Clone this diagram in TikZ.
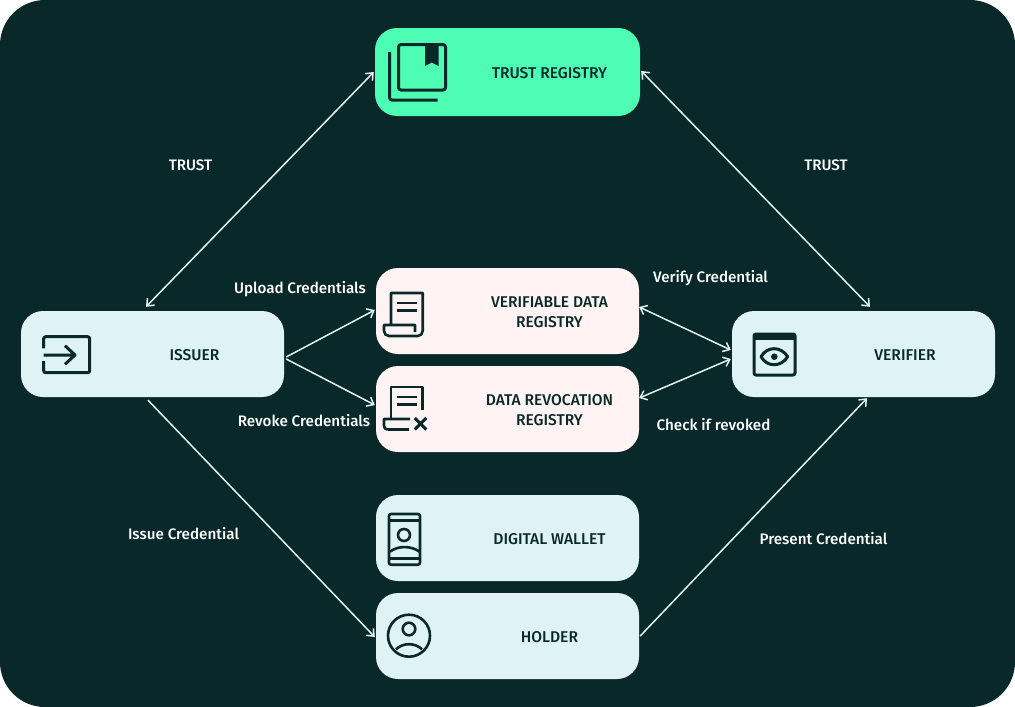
\documentclass[tikz,border=0pt]{standalone}
\usepackage{fontspec}
\setmainfont{Fira Sans Medium}
\usetikzlibrary{arrows.meta}
\definecolor{pagebg}{HTML}{08282A}
\definecolor{mint}{HTML}{4DFDB3}
\definecolor{blush}{HTML}{FFF4F3}
\definecolor{ice}{HTML}{DFF2F6}
\definecolor{linkcol}{HTML}{E2F3EE}
\tikzset{>={Straight Barb[length=6pt,width=10pt]},
box/.style={rounded corners=22pt,minimum width=263pt,minimum height=86pt,inner sep=0pt},
title/.style={text=pagebg,font=\fontsize{15.6}{20}\selectfont,align=center},
caption/.style={text=white,font=\fontsize{15.2}{20}\selectfont},
link/.style={draw=linkcol,line width=1.5pt},
icon/.style={draw=pagebg,line width=3pt,line join=round},
thinicon/.style={icon,line width=2.6pt}}

\begin{document}
\begin{tikzpicture}[x=1pt,y=-1pt]
\useasboundingbox (0,0) rectangle (1015,707);
\fill[white] (0,0) rectangle (1015,707);
\fill[pagebg,rounded corners=45pt] (0,0) rectangle (1015,707);
% boxes
\node[box,fill=mint,minimum width=265pt,minimum height=88pt] (trust) at (507.5,72) {};
\node[box,fill=blush] (vdr) at (507.5,311) {};
\node[box,fill=blush] (drr) at (507.5,409) {};
\node[box,fill=ice] (wallet) at (507.5,538) {};
\node[box,fill=ice] (holder) at (507.5,636) {};
\node[box,fill=ice] (issuer) at (152.5,354) {};
\node[box,fill=ice] (verifier) at (863.5,354) {};
% box texts
\node[title] (trusttxt) at (549.5,73) {TRUST REGISTRY};
\node[title] (vdrtxt) at (549.5,312) {VERIFIABLE DATA\\REGISTRY};
\node[title] (drrtxt) at (549.5,410) {DATA REVOCATION\\REGISTRY};
\node[title] (wallettxt) at (549.5,539) {DIGITAL WALLET};
\node[title] (holdertxt) at (549.5,637) {HOLDER};
\node[title] (issuertxt) at (194.5,355) {ISSUER};
\node[title] (verifiertxt) at (905,355) {VERIFIER};
% connectors
\draw[link,<->] ([xshift=-6.5pt,yshift=4pt]issuer.north) -- ([xshift=-1pt]trust.west);
\draw[link,<->] ([xshift=6.5pt,yshift=4pt]verifier.north) -- ([xshift=1pt,yshift=1pt]trust.east);
\draw[link,->] ([xshift=2pt,yshift=-3pt]issuer.east) -- ([xshift=-1pt,yshift=1pt]vdr.west);
\draw[link,->] ([xshift=2pt,yshift=-5pt]issuer.east) -- ([xshift=-1pt,yshift=4pt]drr.west);
\draw[link,<->] ([yshift=4pt]vdr.east) -- ([xshift=-1pt,yshift=4pt]verifier.west);
\draw[link,<->] ([yshift=11pt]drr.east) -- ([xshift=-1pt,yshift=-5pt]verifier.west);
\draw[link,->] ([xshift=-4.5pt,yshift=-3pt]issuer.south) -- ([xshift=-1pt,yshift=-1pt]holder.west);
\draw[link,->] ([xshift=1pt]holder.east) -- ([xshift=3.5pt,yshift=-1pt]verifier.south);
% connector texts
\node[caption] (trustl) at (190.5,165) {TRUST};
\node[caption] (trustr) at (826,165) {TRUST};
\node[caption] (upload) at (300,289) {Upload Credentials};
\node[caption] (verify) at (710.5,278) {Verify Credential};
\node[caption] (revoke) at (304,420.3) {Revoke Credentials};
\node[caption] (check) at (713.5,424.7) {Check if revoked};
\node[caption] (issue) at (183.5,533.3) {Issue Credential};
\node[caption] (present) at (823.5,538.8) {Present Credential};
% book icon
\draw[icon,rounded corners=2.5pt] (398.5,44.5) rectangle (445.5,90);
\draw[icon,rounded corners=2.5pt] (389.5,52) -- (389.5,100) -- (437.7,100);
\fill[pagebg] (425,44) -- (438.5,44) -- (438.5,66) -- (431.7,62.5) -- (425,66) -- cycle;
% scroll icon
\draw[thinicon] (391,324) -- (391,293) -- (422.7,293) -- (422.7,331) arc (0:90:5) -- (389,336) arc (90:180:5) -- (384,325) -- (415,325) -- (415,332);
\draw[thinicon] (396.7,303) -- (417,303) (396.7,310.3) -- (417,310.3);
% revoked scroll icon
\draw[thinicon] (391,419) -- (391,387) -- (422.7,387) -- (422.7,410);
\draw[thinicon] (410,419) -- (384,419) -- (384,426) arc (180:90:3.5) (387.5,429.5) -- (409,429.5);
\draw[thinicon] (396.7,397) -- (417,397) (396.7,404.3) -- (417,404.3);
\draw[icon] (414.8,418) -- (426.3,429.5) (426.3,418) -- (414.8,429.5);
% wallet icon
\draw[thinicon,rounded corners=2pt] (389,514) rectangle (420,564.7);
\draw[thinicon] (389,520.7) -- (420,520.7) (389,558.3) -- (420,558.3);
\draw[thinicon] (404,535) circle (6);
\draw[thinicon] (390,551.7) .. controls (398,545.5) and (411,545.5) .. (419.5,551.7);
% holder icon
\draw[thinicon] (409,635.7) circle (21);
\draw[thinicon] (409,629) circle (6.3);
\draw[thinicon] (396,649.3) .. controls (403,642.5) and (415,642.5) .. (422,649.3);
% issuer icon
\draw[icon,rounded corners=2pt] (43.7,348.3) -- (43.7,336.7) -- (89.7,336.7) -- (89.7,372.7) -- (43.7,372.7) -- (43.7,361);
\draw[icon] (43.7,355) -- (75,355) (65,345.7) -- (75,355) -- (65,364.3);
% verifier icon
\draw[icon,rounded corners=2pt] (754,334) rectangle (795,375);
\fill[pagebg] (754,334) rectangle (795,339.5);
\draw[icon] (761,356.7) .. controls (767,346) and (781,346) .. (787.7,356.7) .. controls (781,367.4) and (767,367.4) .. (761,356.7) -- cycle;
\fill[pagebg] (774.3,356.7) circle (3.3);
\end{tikzpicture}
\end{document}
